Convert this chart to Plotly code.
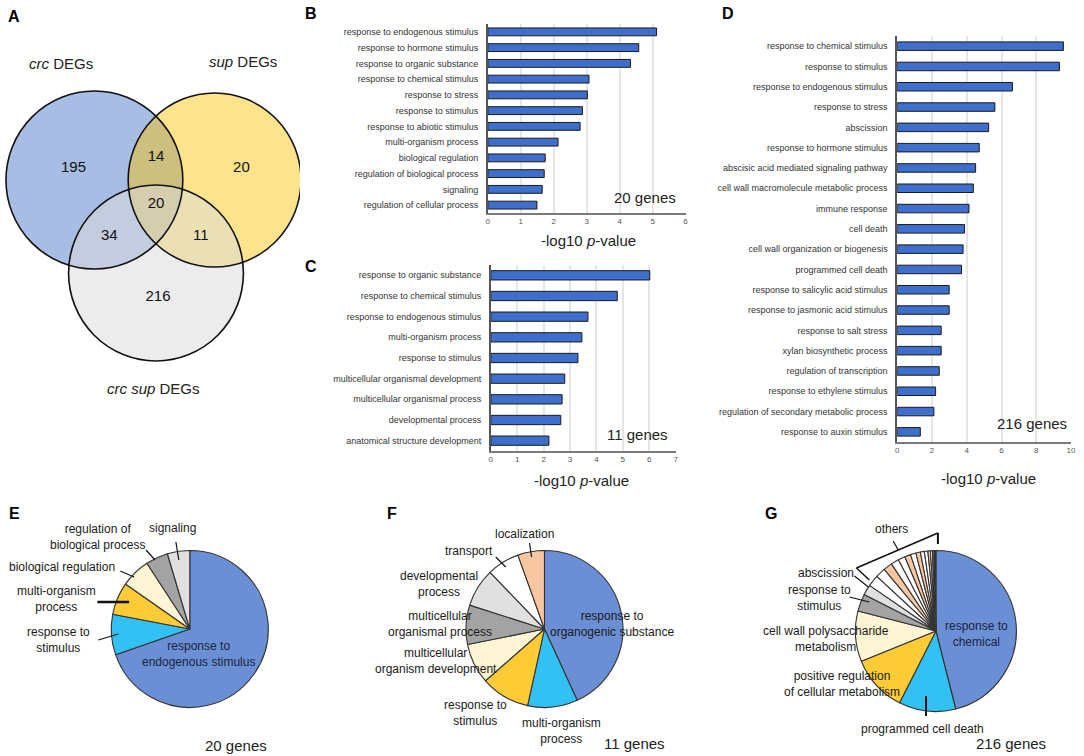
import plotly.graph_objects as go

W, H = 1084, 756
def px(x): return x / W
def py(y): return 1 - y / H

FONT = "Liberation Sans, Arial, Helvetica, sans-serif"

# ---------------- data ----------------
venn_set_labels = ["<i>crc</i> DEGs", "<i>sup</i> DEGs", "<i>crc sup</i> DEGs"]
venn_counts = [195, 14, 20, 20, 34, 11, 216]

b_terms = ["response to endogenous stimulus", "response to hormone stimulus",
           "response to organic substance", "response to chemical stimulus",
           "response to stress", "response to stimulus", "response to abiotic stimulus",
           "multi-organism process", "biological regulation",
           "regulation of biological process", "signaling", "regulation of cellular process"]
b_vals = [5.12, 4.58, 4.33, 3.07, 3.02, 2.87, 2.80, 2.13, 1.74, 1.71, 1.65, 1.49]

c_terms = ["response to organic substance", "response to chemical stimulus",
           "response to endogenous stimulus", "multi-organism process",
           "response to stimulus", "multicellular organismal development",
           "multicellular organismal process", "developmental process",
           "anatomical structure development"]
c_vals = [6.02, 4.79, 3.68, 3.45, 3.30, 2.80, 2.70, 2.65, 2.20]

d_terms = ["response to chemical stimulus", "response to stimulus",
           "response to endogenous stimulus", "response to stress", "abscission",
           "response to hormone stimulus", "abscisic acid mediated signaling pathway",
           "cell wall macromolecule metabolic process", "immune response", "cell death",
           "cell wall organization or biogenesis", "programmed cell death",
           "response to salicylic acid stimulus", "response to jasmonic acid stimulus",
           "response to salt stress", "xylan biosynthetic process",
           "regulation of transcription", "response to ethylene stimulus",
           "regulation of secondary metabolic process", "response to auxin stimulus"]
d_vals = [9.56, 9.33, 6.63, 5.62, 5.26, 4.72, 4.51, 4.38, 4.13, 3.87, 3.79, 3.70,
          2.99, 2.99, 2.53, 2.53, 2.42, 2.21, 2.11, 1.33]

e_labels = ["response to endogenous stimulus", "response to stimulus",
            "multi-organism process", "biological regulation",
            "regulation of biological process", "signaling"]
e_vals = [69.7, 8.3, 6.7, 6.1, 4.6, 4.6]

f_labels = ["response to organogenic substance", "multi-organism process",
            "response to stimulus", "multicellular organism development",
            "multicellular organismal process", "developmental process",
            "transport", "localization"]
f_vals = [43.2, 10.3, 10.1, 8.3, 8.1, 7.9, 6.7, 5.5]

g_labels = ["response to chemical", "programmed cell death",
            "positive regulation of cellular metabolism",
            "cell wall polysaccharide metabolism", "response to stimulus", "abscission"]
g_vals = [46.0, 11.4, 11.4, 10.1, 3.5, 2.1]
g_other_vals = [2.3, 2.0, 1.8, 1.6, 1.4, 1.2, 1.1, 0.9, 0.8, 0.7, 0.5, 0.4, 0.3, 0.2, 0.2]

# ---------------- styles ----------------
BAR = "#3e6fcc"
BLUE, CYAN, YEL, CREAM = "#6b8fd4", "#33c1f3", "#fdcb36", "#fff4d4"
DGRAY, LGRAY, WHITE, PEACH = "#a3a3a3", "#e0e0e0", "#ffffff", "#f8c6a0"

fig = go.Figure()

# ---------------- Venn (panel A) ----------------
venn_circles = [(93, 180, 89, "rgb(168,189,227)"),
                (214, 180, 87, "rgba(251,193,0,0.45)"),
                (155, 273, 88, "rgba(219,219,219,0.53)")]
venn_text_xy = [(72, 168), (155, 157), (241, 168), (155, 204), (108, 236), (200, 236), (157, 297)]
shapes = []
for cx, cy, r, col in venn_circles:
    shapes.append(dict(type="circle", xref="x4", yref="y4", x0=cx - r, x1=cx + r,
                       y0=cy - r, y1=cy + r, fillcolor=col, line=dict(width=0), layer="below"))
for cx, cy, r, col in venn_circles:
    shapes.append(dict(type="circle", xref="x4", yref="y4", x0=cx - r, x1=cx + r,
                       y0=cy - r, y1=cy + r, fillcolor="rgba(0,0,0,0)",
                       line=dict(color="#111", width=1.6), layer="above"))
fig.add_trace(go.Scatter(x=[p[0] for p in venn_text_xy], y=[p[1] for p in venn_text_xy],
                         text=[str(v) for v in venn_counts], mode="text",
                         textfont=dict(size=15, color="#111", family=FONT),
                         xaxis="x4", yaxis="y4", hoverinfo="skip", showlegend=False))

# ---------------- bar charts ----------------
bar_kw = dict(orientation="h", marker=dict(color=BAR, line=dict(color="#1a1a1a", width=1)),
              showlegend=False, hoverinfo="x+y")
fig.add_trace(go.Bar(x=b_vals, y=b_terms, xaxis="x", yaxis="y", width=0.5, **bar_kw))
fig.add_trace(go.Bar(x=c_vals, y=c_terms, xaxis="x2", yaxis="y2", width=0.45, **bar_kw))
fig.add_trace(go.Bar(x=d_vals, y=d_terms, xaxis="x3", yaxis="y3", width=0.42, **bar_kw))

def xax(x0, x1, rng, dtick, anchor):
    return dict(domain=[px(x0), px(x1)], range=rng, dtick=dtick, anchor=anchor,
                showgrid=True, gridcolor="#e6e6e6", gridwidth=1.5, zeroline=False,
                showline=True, linecolor="#7a7a7a", linewidth=1.5, ticks="",
                tickfont=dict(size=8, color="#555", family=FONT), fixedrange=True)

def yax(y0, y1, n, anchor, size):
    return dict(domain=[py(y1), py(y0)], range=[n - 0.5, -0.5], anchor=anchor,
                showgrid=False, zeroline=False, showline=True, linecolor="#555",
                linewidth=1.5, ticks="", ticklabelstandoff=6,
                tickfont=dict(size=size, color="#333", family=FONT), fixedrange=True)

layout_axes = dict(
    xaxis=xax(489, 688, [0, 6], 1, "y"),
    yaxis=yax(24, 213, len(b_terms), "x", 9),
    xaxis2=xax(492, 678, [0, 7], 1, "y2"),
    yaxis2=yax(265, 451, len(c_terms), "x2", 9),
    xaxis3=xax(901, 1076, [0, 10], 2, "y3"),
    yaxis3=yax(36, 442, len(d_terms), "x3", 9),
    xaxis4=dict(domain=[0, px(300)], range=[0, 300], visible=False, fixedrange=True, anchor="y4"),
    yaxis4=dict(domain=[py(410), 1], range=[410, 0], visible=False, fixedrange=True, anchor="x4"),
)

# ---------------- pies ----------------
def pie(vals, labels, colors, cx, cy, r):
    return go.Pie(values=vals, labels=labels, sort=False, direction="clockwise", rotation=0,
                  marker=dict(colors=colors, line=dict(color="#333", width=1.1)),
                  textinfo="none", hoverinfo="label+percent", showlegend=False,
                  domain=dict(x=[px(cx - r), px(cx + r)], y=[py(cy + r), py(cy - r)]))

fig.add_trace(pie(e_vals, e_labels, [BLUE, CYAN, YEL, CREAM, DGRAY, LGRAY], 189, 629, 79))
fig.add_trace(pie(f_vals, f_labels, [BLUE, CYAN, YEL, CREAM, DGRAY, LGRAY, WHITE, PEACH],
                  546, 629, 79))
other_cols = [WHITE, WHITE, PEACH, WHITE, WHITE, PEACH, WHITE, PEACH, WHITE, WHITE,
              PEACH, WHITE, PEACH, WHITE, WHITE]
fig.add_trace(pie(g_vals + g_other_vals,
                  g_labels + ["others %d" % (i + 1) for i in range(len(g_other_vals))],
                  [BLUE, CYAN, YEL, CREAM, DGRAY, LGRAY] + other_cols, 940, 631, 81))

# ---------------- annotations ----------------
ann = []
def txt(x, y, s, size=12, color="#1a1a1a", xanchor="center", yanchor="middle"):
    ann.append(dict(x=px(x), y=py(y), xref="paper", yref="paper", text=s, showarrow=False,
                    xanchor=xanchor, yanchor=yanchor,
                    font=dict(size=size, color=color, family=FONT)))

for letter, (x, y) in zip("ABCDEFG", [(12, 17), (311, 13), (311, 266), (731, 13),
                                      (13, 513), (393, 513), (774, 513)]):
    txt(x, y, "<b>%s</b>" % letter, size=16, color="#000")

# venn labels
for s, (x, y) in zip(venn_set_labels, [(59, 63), (243, 61), (152, 388)]):
    txt(x, y, s, size=15, color="#222")

# bar chart annotations
XT = "-log10 <i>p</i>-value"
txt(590, 240, XT, size=15, color="#222")
txt(583, 480, XT, size=15, color="#222")
txt(993, 478, XT, size=15, color="#222")
txt(647, 198, "20 genes", size=15, color="#222")
txt(640, 435, "11 genes", size=15, color="#222")
txt(1037, 423, "216 genes", size=15, color="#222")

# pie E
txt(198, 654, "response to<br>endogenous stimulus", color="#1a2540")
txt(57, 640, "response to<br>stimulus")
txt(55, 599, "multi-organism<br>process")
txt(60, 567, "biological regulation")
txt(96, 537, "regulation of<br>biological process")
txt(172, 528, "signaling")
txt(236, 745, "20 genes", size=15, color="#222")

# pie F
txt(614, 624, "response to<br>organogenic substance")
txt(563, 731, "multi-organism<br>process")
txt(477, 713, "response to<br>stimulus")
txt(437, 661, "multicellular<br>organism development")
txt(441, 624, "multicellular<br>organismal process")
txt(440, 584, "developmental<br>process")
txt(470, 551, "transport")
txt(526, 534, "localization")
txt(637, 743, "11 genes", size=15, color="#222")

# pie G
txt(981, 634, "response to<br>chemical", color="#1a2540")
txt(926, 729, "programmed cell death")
txt(845, 684, "positive regulation<br>of cellular metabolism")
txt(829, 639, "cell wall polysaccharide<br>metabolism")
txt(823, 598, "response to<br>stimulus")
txt(829, 573, "abscission")
txt(895, 529, "others")
txt(1016, 743, "216 genes", size=15, color="#222")

# leader lines (pixel coords)
leaders = [
    ((97, 640), (117, 634), 1.2), ((96, 602), (128, 602), 2.5), ((119, 571), (133, 577), 1.2),
    ((145, 550), (154, 560), 1.2), ((175, 542), (178, 560), 1.2),
    ((497, 557), (507, 567), 1.2), ((531, 543), (533, 557), 1.2),
    ((930, 696), (930, 716), 2.0), ((853, 597), (873, 602), 1.2),
    ((858, 576), (872, 587), 1.2),
    ((860, 568), (942, 533), 1.5), ((942, 533), (942, 544), 2.0), ((860, 568), (873, 580), 1.5),
    ((897, 541), (902, 550), 1.2),
]
for (x0, y0), (x1, y1), w in leaders:
    shapes.append(dict(type="line", xref="paper", yref="paper", x0=px(x0), y0=py(y0),
                       x1=px(x1), y1=py(y1), line=dict(color="#111", width=w)))

fig.update_layout(
    width=W, height=H, autosize=False,
    margin=dict(l=0, r=0, t=0, b=0, pad=0),
    paper_bgcolor="white", plot_bgcolor="white",
    font=dict(family=FONT, color="#222"),
    shapes=shapes, annotations=ann, bargap=0.5,
    **layout_axes,
)

fig.write_html("out.html", config={"displayModeBar": False},
               post_script="document.body.style.margin='0';")
